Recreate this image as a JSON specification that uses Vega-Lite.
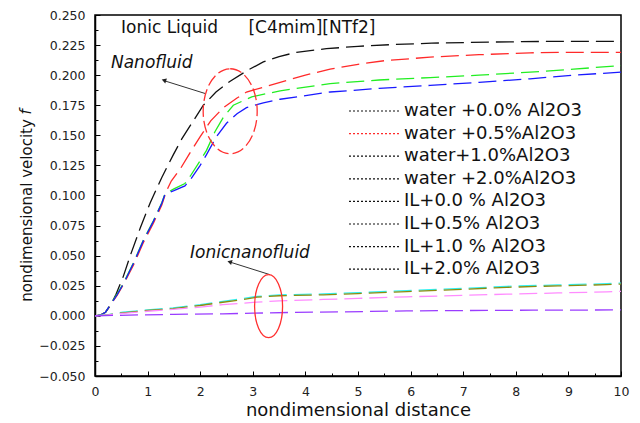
{
  "$schema": "https://vega.github.io/schema/vega-lite/v6.json",
  "width": 526,
  "height": 361,
  "autosize": "none",
  "padding": {"left": 95, "top": 15, "right": 19, "bottom": 47},
  "background": "white",
  "config": {
    "font": "DejaVu Sans",
    "view": {"stroke": "black", "strokeWidth": 1.5},
    "axis": {
      "grid": false,
      "domainColor": "black",
      "domainWidth": 1.5,
      "tickColor": "black",
      "tickWidth": 1,
      "labelFont": "DejaVu Sans",
      "labelFontSize": 12.5,
      "labelColor": "#222222",
      "titleFont": "DejaVu Sans",
      "titleFontWeight": "normal",
      "titleColor": "#111111"
    }
  },
  "datasets": {
    "curves": [
      {"series": "water +0.0% Al2O3", "distance": 0, "velocity": 0},
      {"series": "water +0.0% Al2O3", "distance": 0.1, "velocity": 0.0006},
      {"series": "water +0.0% Al2O3", "distance": 0.2, "velocity": 0.003},
      {"series": "water +0.0% Al2O3", "distance": 0.3, "velocity": 0.009},
      {"series": "water +0.0% Al2O3", "distance": 0.4, "velocity": 0.018},
      {"series": "water +0.0% Al2O3", "distance": 0.54, "velocity": 0.033},
      {"series": "water +0.0% Al2O3", "distance": 0.67, "velocity": 0.05},
      {"series": "water +0.0% Al2O3", "distance": 0.86, "velocity": 0.073},
      {"series": "water +0.0% Al2O3", "distance": 1.05, "velocity": 0.094},
      {"series": "water +0.0% Al2O3", "distance": 1.27, "velocity": 0.115},
      {"series": "water +0.0% Al2O3", "distance": 1.49, "velocity": 0.134},
      {"series": "water +0.0% Al2O3", "distance": 1.65, "velocity": 0.147},
      {"series": "water +0.0% Al2O3", "distance": 1.81, "velocity": 0.158},
      {"series": "water +0.0% Al2O3", "distance": 2.06, "velocity": 0.175},
      {"series": "water +0.0% Al2O3", "distance": 2.3, "velocity": 0.186},
      {"series": "water +0.0% Al2O3", "distance": 2.57, "velocity": 0.195},
      {"series": "water +0.0% Al2O3", "distance": 2.9, "velocity": 0.204},
      {"series": "water +0.0% Al2O3", "distance": 3.2, "velocity": 0.211},
      {"series": "water +0.0% Al2O3", "distance": 3.5, "velocity": 0.2155},
      {"series": "water +0.0% Al2O3", "distance": 3.83, "velocity": 0.219},
      {"series": "water +0.0% Al2O3", "distance": 4.4, "velocity": 0.222},
      {"series": "water +0.0% Al2O3", "distance": 5.0, "velocity": 0.224},
      {"series": "water +0.0% Al2O3", "distance": 5.7, "velocity": 0.2255},
      {"series": "water +0.0% Al2O3", "distance": 6.4, "velocity": 0.2266},
      {"series": "water +0.0% Al2O3", "distance": 7.5, "velocity": 0.2275},
      {"series": "water +0.0% Al2O3", "distance": 8.5, "velocity": 0.228},
      {"series": "water +0.0% Al2O3", "distance": 10, "velocity": 0.228},

      {"series": "water +0.5%Al2O3", "distance": 0, "velocity": 0},
      {"series": "water +0.5%Al2O3", "distance": 0.1, "velocity": 0.0005},
      {"series": "water +0.5%Al2O3", "distance": 0.2, "velocity": 0.003},
      {"series": "water +0.5%Al2O3", "distance": 0.3, "velocity": 0.0095},
      {"series": "water +0.5%Al2O3", "distance": 0.42, "velocity": 0.017},
      {"series": "water +0.5%Al2O3", "distance": 0.54, "velocity": 0.026},
      {"series": "water +0.5%Al2O3", "distance": 0.73, "velocity": 0.042},
      {"series": "water +0.5%Al2O3", "distance": 0.92, "velocity": 0.061},
      {"series": "water +0.5%Al2O3", "distance": 1.11, "velocity": 0.077},
      {"series": "water +0.5%Al2O3", "distance": 1.27, "velocity": 0.092},
      {"series": "water +0.5%Al2O3", "distance": 1.35, "velocity": 0.103},
      {"series": "water +0.5%Al2O3", "distance": 1.45, "velocity": 0.112},
      {"series": "water +0.5%Al2O3", "distance": 1.62, "velocity": 0.122},
      {"series": "water +0.5%Al2O3", "distance": 1.8, "velocity": 0.135},
      {"series": "water +0.5%Al2O3", "distance": 2.0, "velocity": 0.149},
      {"series": "water +0.5%Al2O3", "distance": 2.2, "velocity": 0.162},
      {"series": "water +0.5%Al2O3", "distance": 2.44, "velocity": 0.173},
      {"series": "water +0.5%Al2O3", "distance": 2.7, "velocity": 0.181},
      {"series": "water +0.5%Al2O3", "distance": 2.88, "velocity": 0.186},
      {"series": "water +0.5%Al2O3", "distance": 3.2, "velocity": 0.19},
      {"series": "water +0.5%Al2O3", "distance": 3.52, "velocity": 0.194},
      {"series": "water +0.5%Al2O3", "distance": 4.0, "velocity": 0.2},
      {"series": "water +0.5%Al2O3", "distance": 4.47, "velocity": 0.205},
      {"series": "water +0.5%Al2O3", "distance": 5.0, "velocity": 0.209},
      {"series": "water +0.5%Al2O3", "distance": 5.5, "velocity": 0.212},
      {"series": "water +0.5%Al2O3", "distance": 6.37, "velocity": 0.215},
      {"series": "water +0.5%Al2O3", "distance": 7.3, "velocity": 0.217},
      {"series": "water +0.5%Al2O3", "distance": 8.27, "velocity": 0.2186},
      {"series": "water +0.5%Al2O3", "distance": 9.1, "velocity": 0.219},
      {"series": "water +0.5%Al2O3", "distance": 10, "velocity": 0.219},

      {"series": "water+1.0%Al2O3", "distance": 0, "velocity": 0},
      {"series": "water+1.0%Al2O3", "distance": 0.1, "velocity": 0.0005},
      {"series": "water+1.0%Al2O3", "distance": 0.2, "velocity": 0.003},
      {"series": "water+1.0%Al2O3", "distance": 0.3, "velocity": 0.01},
      {"series": "water+1.0%Al2O3", "distance": 0.42, "velocity": 0.018},
      {"series": "water+1.0%Al2O3", "distance": 0.54, "velocity": 0.027},
      {"series": "water+1.0%Al2O3", "distance": 0.73, "velocity": 0.044},
      {"series": "water+1.0%Al2O3", "distance": 0.92, "velocity": 0.063},
      {"series": "water+1.0%Al2O3", "distance": 1.11, "velocity": 0.079},
      {"series": "water+1.0%Al2O3", "distance": 1.27, "velocity": 0.094},
      {"series": "water+1.0%Al2O3", "distance": 1.33, "velocity": 0.1015},
      {"series": "water+1.0%Al2O3", "distance": 1.5, "velocity": 0.1055},
      {"series": "water+1.0%Al2O3", "distance": 1.71, "velocity": 0.11},
      {"series": "water+1.0%Al2O3", "distance": 1.81, "velocity": 0.116},
      {"series": "water+1.0%Al2O3", "distance": 2.0, "velocity": 0.129},
      {"series": "water+1.0%Al2O3", "distance": 2.12, "velocity": 0.1375},
      {"series": "water+1.0%Al2O3", "distance": 2.28, "velocity": 0.153},
      {"series": "water+1.0%Al2O3", "distance": 2.44, "velocity": 0.165},
      {"series": "water+1.0%Al2O3", "distance": 2.63, "velocity": 0.175},
      {"series": "water+1.0%Al2O3", "distance": 2.98, "velocity": 0.182},
      {"series": "water+1.0%Al2O3", "distance": 3.52, "velocity": 0.187},
      {"series": "water+1.0%Al2O3", "distance": 4.47, "velocity": 0.193},
      {"series": "water+1.0%Al2O3", "distance": 5.4, "velocity": 0.196},
      {"series": "water+1.0%Al2O3", "distance": 6.37, "velocity": 0.198},
      {"series": "water+1.0%Al2O3", "distance": 7.3, "velocity": 0.2},
      {"series": "water+1.0%Al2O3", "distance": 8.27, "velocity": 0.2025},
      {"series": "water+1.0%Al2O3", "distance": 9.1, "velocity": 0.205},
      {"series": "water+1.0%Al2O3", "distance": 10, "velocity": 0.208},

      {"series": "water +2.0%Al2O3", "distance": 0, "velocity": 0},
      {"series": "water +2.0%Al2O3", "distance": 0.1, "velocity": 0.0005},
      {"series": "water +2.0%Al2O3", "distance": 0.2, "velocity": 0.003},
      {"series": "water +2.0%Al2O3", "distance": 0.3, "velocity": 0.0098},
      {"series": "water +2.0%Al2O3", "distance": 0.42, "velocity": 0.0175},
      {"series": "water +2.0%Al2O3", "distance": 0.54, "velocity": 0.0265},
      {"series": "water +2.0%Al2O3", "distance": 0.73, "velocity": 0.0435},
      {"series": "water +2.0%Al2O3", "distance": 0.92, "velocity": 0.0625},
      {"series": "water +2.0%Al2O3", "distance": 1.11, "velocity": 0.0785},
      {"series": "water +2.0%Al2O3", "distance": 1.27, "velocity": 0.0935},
      {"series": "water +2.0%Al2O3", "distance": 1.33, "velocity": 0.101},
      {"series": "water +2.0%Al2O3", "distance": 1.5, "velocity": 0.104},
      {"series": "water +2.0%Al2O3", "distance": 1.71, "velocity": 0.108},
      {"series": "water +2.0%Al2O3", "distance": 1.81, "velocity": 0.113},
      {"series": "water +2.0%Al2O3", "distance": 2.0, "velocity": 0.125},
      {"series": "water +2.0%Al2O3", "distance": 2.12, "velocity": 0.134},
      {"series": "water +2.0%Al2O3", "distance": 2.31, "velocity": 0.149},
      {"series": "water +2.0%Al2O3", "distance": 2.5, "velocity": 0.16},
      {"series": "water +2.0%Al2O3", "distance": 2.7, "velocity": 0.168},
      {"series": "water +2.0%Al2O3", "distance": 2.88, "velocity": 0.173},
      {"series": "water +2.0%Al2O3", "distance": 3.2, "velocity": 0.177},
      {"series": "water +2.0%Al2O3", "distance": 3.52, "velocity": 0.18},
      {"series": "water +2.0%Al2O3", "distance": 4.47, "velocity": 0.186},
      {"series": "water +2.0%Al2O3", "distance": 5.4, "velocity": 0.189},
      {"series": "water +2.0%Al2O3", "distance": 6.37, "velocity": 0.1915},
      {"series": "water +2.0%Al2O3", "distance": 7.3, "velocity": 0.194},
      {"series": "water +2.0%Al2O3", "distance": 8.27, "velocity": 0.197},
      {"series": "water +2.0%Al2O3", "distance": 9.1, "velocity": 0.2},
      {"series": "water +2.0%Al2O3", "distance": 10, "velocity": 0.2025},

      {"series": "IL+0.0 % Al2O3", "distance": 0, "velocity": 0},
      {"series": "IL+0.0 % Al2O3", "distance": 0.25, "velocity": 0.001},
      {"series": "IL+0.0 % Al2O3", "distance": 0.53, "velocity": 0.003},
      {"series": "IL+0.0 % Al2O3", "distance": 1.0, "velocity": 0.005},
      {"series": "IL+0.0 % Al2O3", "distance": 1.48, "velocity": 0.0066},
      {"series": "IL+0.0 % Al2O3", "distance": 2.0, "velocity": 0.0093},
      {"series": "IL+0.0 % Al2O3", "distance": 2.43, "velocity": 0.012},
      {"series": "IL+0.0 % Al2O3", "distance": 2.8, "velocity": 0.0142},
      {"series": "IL+0.0 % Al2O3", "distance": 3.08, "velocity": 0.0162},
      {"series": "IL+0.0 % Al2O3", "distance": 3.5, "velocity": 0.0174},
      {"series": "IL+0.0 % Al2O3", "distance": 4.34, "velocity": 0.0182},
      {"series": "IL+0.0 % Al2O3", "distance": 5.0, "velocity": 0.0192},
      {"series": "IL+0.0 % Al2O3", "distance": 5.93, "velocity": 0.021},
      {"series": "IL+0.0 % Al2O3", "distance": 7.0, "velocity": 0.0228},
      {"series": "IL+0.0 % Al2O3", "distance": 7.83, "velocity": 0.0245},
      {"series": "IL+0.0 % Al2O3", "distance": 8.8, "velocity": 0.0257},
      {"series": "IL+0.0 % Al2O3", "distance": 9.73, "velocity": 0.0267},
      {"series": "IL+0.0 % Al2O3", "distance": 10, "velocity": 0.0272},

      {"series": "IL+0.5% Al2O3", "distance": 0, "velocity": 0},
      {"series": "IL+0.5% Al2O3", "distance": 0.25, "velocity": 0.0008},
      {"series": "IL+0.5% Al2O3", "distance": 0.53, "velocity": 0.0025},
      {"series": "IL+0.5% Al2O3", "distance": 1.0, "velocity": 0.0045},
      {"series": "IL+0.5% Al2O3", "distance": 1.48, "velocity": 0.006},
      {"series": "IL+0.5% Al2O3", "distance": 2.0, "velocity": 0.0086},
      {"series": "IL+0.5% Al2O3", "distance": 2.43, "velocity": 0.0113},
      {"series": "IL+0.5% Al2O3", "distance": 2.8, "velocity": 0.0135},
      {"series": "IL+0.5% Al2O3", "distance": 3.08, "velocity": 0.0155},
      {"series": "IL+0.5% Al2O3", "distance": 3.5, "velocity": 0.0167},
      {"series": "IL+0.5% Al2O3", "distance": 4.34, "velocity": 0.0175},
      {"series": "IL+0.5% Al2O3", "distance": 5.0, "velocity": 0.0185},
      {"series": "IL+0.5% Al2O3", "distance": 5.93, "velocity": 0.0202},
      {"series": "IL+0.5% Al2O3", "distance": 7.0, "velocity": 0.022},
      {"series": "IL+0.5% Al2O3", "distance": 7.83, "velocity": 0.0237},
      {"series": "IL+0.5% Al2O3", "distance": 8.8, "velocity": 0.0249},
      {"series": "IL+0.5% Al2O3", "distance": 9.73, "velocity": 0.0259},
      {"series": "IL+0.5% Al2O3", "distance": 10, "velocity": 0.0264},

      {"series": "\u00a0IL+1.0 % Al2O3", "distance": 0, "velocity": 0},
      {"series": "\u00a0IL+1.0 % Al2O3", "distance": 0.25, "velocity": 0.0007},
      {"series": "\u00a0IL+1.0 % Al2O3", "distance": 0.53, "velocity": 0.002},
      {"series": "\u00a0IL+1.0 % Al2O3", "distance": 1.0, "velocity": 0.0038},
      {"series": "\u00a0IL+1.0 % Al2O3", "distance": 1.48, "velocity": 0.0053},
      {"series": "\u00a0IL+1.0 % Al2O3", "distance": 2.0, "velocity": 0.0073},
      {"series": "\u00a0IL+1.0 % Al2O3", "distance": 2.43, "velocity": 0.0093},
      {"series": "\u00a0IL+1.0 % Al2O3", "distance": 3.08, "velocity": 0.0114},
      {"series": "\u00a0IL+1.0 % Al2O3", "distance": 3.5, "velocity": 0.0125},
      {"series": "\u00a0IL+1.0 % Al2O3", "distance": 4.34, "velocity": 0.0136},
      {"series": "\u00a0IL+1.0 % Al2O3", "distance": 5.0, "velocity": 0.0145},
      {"series": "\u00a0IL+1.0 % Al2O3", "distance": 5.93, "velocity": 0.0158},
      {"series": "\u00a0IL+1.0 % Al2O3", "distance": 7.0, "velocity": 0.017},
      {"series": "\u00a0IL+1.0 % Al2O3", "distance": 7.83, "velocity": 0.018},
      {"series": "\u00a0IL+1.0 % Al2O3", "distance": 8.8, "velocity": 0.019},
      {"series": "\u00a0IL+1.0 % Al2O3", "distance": 9.73, "velocity": 0.0199},
      {"series": "\u00a0IL+1.0 % Al2O3", "distance": 10, "velocity": 0.0203},

      {"series": "IL+2.0% Al2O3", "distance": 0, "velocity": 0},
      {"series": "IL+2.0% Al2O3", "distance": 0.86, "velocity": 0.0008},
      {"series": "IL+2.0% Al2O3", "distance": 1.5, "velocity": 0.0012},
      {"series": "IL+2.0% Al2O3", "distance": 2.43, "velocity": 0.0017},
      {"series": "IL+2.0% Al2O3", "distance": 3.0, "velocity": 0.0022},
      {"series": "IL+2.0% Al2O3", "distance": 3.7, "velocity": 0.0028},
      {"series": "IL+2.0% Al2O3", "distance": 4.66, "velocity": 0.0033},
      {"series": "IL+2.0% Al2O3", "distance": 5.93, "velocity": 0.0041},
      {"series": "IL+2.0% Al2O3", "distance": 7.0, "velocity": 0.0044},
      {"series": "IL+2.0% Al2O3", "distance": 8.33, "velocity": 0.0047},
      {"series": "IL+2.0% Al2O3", "distance": 10, "velocity": 0.0049}
    ]
  },
  "layer": [
    {
      "data": {"name": "curves"},
      "mark": {"type": "line", "strokeWidth": 1.3, "strokeDash": [18, 7]},
      "encoding": {
        "x": {
          "field": "distance",
          "type": "quantitative",
          "scale": {"domain": [0, 10], "nice": false},
          "axis": {
            "orient": "bottom",
            "title": "nondimensional distance",
            "titleFontSize": 18,
            "titleBaseline": "middle",
            "titleY": 34,
            "values": [0, 1, 2, 3, 4, 5, 6, 7, 8, 9, 10],
            "format": "d",
            "tickSize": -5,
            "labelPadding": 14.5,
            "labelFlush": false
          }
        },
        "y": {
          "field": "velocity",
          "type": "quantitative",
          "scale": {"domain": [-0.05, 0.25], "nice": false, "zero": false},
          "axis": {
            "orient": "left",
            "title": "nondimensional velocity",
            "titleFontSize": 15,
            "titleAngle": 270,
            "titleAlign": "center",
            "titleBaseline": "alphabetic",
            "titleX": -64,
            "titleY": 195,
            "values": [-0.05, -0.025, 0, 0.025, 0.05, 0.075, 0.1, 0.125, 0.15, 0.175, 0.2, 0.225, 0.25],
            "format": ".3f",
            "tickSize": -5,
            "labelPadding": 15,
            "labelFlush": false
          }
        },
        "color": {
          "field": "series",
          "type": "nominal",
          "sort": null,
          "scale": {
            "range": ["#111111", "#ff2a2a", "#22ee22", "#1a1aff", "#33f0f0", "#8c8c10", "#ff8cff", "#9a3cff"]
          },
          "legend": null
        }
      }
    },
    {
      "data": {"name": "curves"},
      "transform": [{"filter": "false"}],
      "mark": {"type": "line"},
      "encoding": {
        "x": {"field": "distance", "type": "quantitative", "axis": null},
        "y": {"field": "velocity", "type": "quantitative", "axis": null},
        "stroke": {
          "field": "series",
          "type": "nominal",
          "scale": {
            "domain": ["water +0.0% Al2O3", "water +0.5%Al2O3", "water+1.0%Al2O3", "water +2.0%Al2O3", "IL+0.0 % Al2O3", "IL+0.5% Al2O3", "\u00a0IL+1.0 % Al2O3", "IL+2.0% Al2O3"],
            "range": ["#111111", "#ff2a2a", "#111111", "#111111", "#111111", "#111111", "#111111", "#111111"]
          },
          "legend": {
            "orient": "none",
            "legendX": 253,
            "legendY": 85,
            "title": null,
            "padding": 0,
            "symbolType": "stroke",
            "symbolSize": 2704,
            "symbolStrokeWidth": 1.2,
            "symbolDash": [2, 2],
            "clipHeight": 22,
            "labelFont": "DejaVu Sans",
            "labelFontSize": 18,
            "labelColor": "#111111",
            "labelOffset": 2,
            "labelLimit": 400,
            "rowPadding": 0.6
          }
        }
      }
    },
    {
      "data": {"name": "curves"},
      "mark": {"type": "point", "opacity": 0},
      "encoding": {
        "x": {
          "field": "distance",
          "type": "quantitative",
          "axis": {
            "orient": "bottom",
            "title": null,
            "values": [0.5, 1.5, 2.5, 3.5, 4.5, 5.5, 6.5, 7.5, 8.5, 9.5],
            "labels": false,
            "domain": false,
            "tickSize": -3
          }
        },
        "y": {
          "field": "velocity",
          "type": "quantitative",
          "axis": {
            "orient": "left",
            "title": null,
            "values": [-0.0375, -0.0125, 0.0125, 0.0375, 0.0625, 0.0875, 0.1125, 0.1375, 0.1625, 0.1875, 0.2125, 0.2375],
            "labels": false,
            "domain": false,
            "tickSize": -3
          }
        }
      }
    },
    {
      "data": {"values": [{}]},
      "mark": {"type": "text", "text": "f", "fontStyle": "italic", "fontSize": 15, "angle": 270, "align": "center", "baseline": "alphabetic", "color": "#111111"},
      "encoding": {
        "x": {"datum": -1.2167, "type": "quantitative", "axis": null},
        "y": {"datum": 0.1695, "type": "quantitative", "axis": null}
      }
    },
    {
      "data": {"values": [{}]},
      "mark": {"type": "text", "text": "Ionic Liquid", "fontSize": 17, "align": "left", "baseline": "middle", "color": "#111111"},
      "encoding": {
        "x": {"datum": 0.494, "type": "quantitative", "axis": null},
        "y": {"datum": 0.2388, "type": "quantitative", "axis": null}
      }
    },
    {
      "data": {"values": [{}]},
      "mark": {"type": "text", "text": "[C4mim][NTf2]", "fontSize": 17, "align": "left", "baseline": "middle", "color": "#111111"},
      "encoding": {
        "x": {"datum": 2.918, "type": "quantitative", "axis": null},
        "y": {"datum": 0.2388, "type": "quantitative", "axis": null}
      }
    },
    {
      "data": {"values": [{}]},
      "mark": {"type": "text", "text": "Nanofluid", "fontSize": 17, "fontStyle": "italic", "align": "left", "baseline": "middle", "color": "#111111"},
      "encoding": {
        "x": {"datum": 0.304, "type": "quantitative", "axis": null},
        "y": {"datum": 0.2105, "type": "quantitative", "axis": null}
      }
    },
    {
      "data": {"values": [{}]},
      "mark": {"type": "text", "text": "Ionicnanofluid", "fontSize": 17, "fontStyle": "italic", "align": "left", "baseline": "middle", "color": "#111111"},
      "encoding": {
        "x": {"datum": 1.806, "type": "quantitative", "axis": null},
        "y": {"datum": 0.0525, "type": "quantitative", "axis": null}
      }
    },
    {
      "data": {"values": [{}]},
      "mark": {"type": "rule", "color": "#333333", "strokeWidth": 1},
      "encoding": {
        "x": {"datum": 2.091, "type": "quantitative", "axis": null},
        "y": {"datum": 0.1848, "type": "quantitative", "axis": null},
        "x2": {"datum": 1.33},
        "y2": {"datum": 0.1952}
      }
    },
    {
      "data": {"values": [{}]},
      "mark": {"type": "point", "shape": "triangle-up", "filled": true, "size": 28, "angle": 288, "color": "#222222", "opacity": 1},
      "encoding": {
        "x": {"datum": 1.31, "type": "quantitative", "axis": null},
        "y": {"datum": 0.1958, "type": "quantitative", "axis": null}
      }
    },
    {
      "data": {"values": [{}]},
      "mark": {"type": "rule", "color": "#333333", "strokeWidth": 1},
      "encoding": {
        "x": {"datum": 3.327, "type": "quantitative", "axis": null},
        "y": {"datum": 0.0342, "type": "quantitative", "axis": null},
        "x2": {"datum": 2.58},
        "y2": {"datum": 0.0445}
      }
    },
    {
      "data": {"values": [{}]},
      "mark": {"type": "point", "shape": "triangle-up", "filled": true, "size": 28, "angle": 287, "color": "#222222", "opacity": 1},
      "encoding": {
        "x": {"datum": 2.56, "type": "quantitative", "axis": null},
        "y": {"datum": 0.0449, "type": "quantitative", "axis": null}
      }
    },
    {
      "data": {"values": [{}]},
      "mark": {
        "type": "point",
        "shape": "M0,-1.574C0.5523,-1.574,1,-0.8693,1,0C1,0.8693,0.5523,1.574,0,1.574C-0.5523,1.574,-1,0.8693,-1,0C-1,-0.8693,-0.5523,-1.574,0,-1.574Z",
        "filled": false,
        "size": 2916,
        "color": "#ff3030",
        "strokeWidth": 1.3,
        "strokeDash": [12, 4],
        "opacity": 1
      },
      "encoding": {
        "x": {"datum": 2.57, "type": "quantitative", "axis": null},
        "y": {"datum": 0.170, "type": "quantitative", "axis": null}
      }
    },
    {
      "data": {"values": [{}]},
      "mark": {
        "type": "point",
        "shape": "M0,-2.25C0.5523,-2.25,1,-1.2427,1,0C1,1.2427,0.5523,2.25,0,2.25C-0.5523,2.25,-1,1.2427,-1,0C-1,-1.2427,-0.5523,-2.25,0,-2.25Z",
        "filled": false,
        "size": 784,
        "color": "#ff3030",
        "strokeWidth": 1.3,
        "opacity": 1
      },
      "encoding": {
        "x": {"datum": 3.30, "type": "quantitative", "axis": null},
        "y": {"datum": 0.008, "type": "quantitative", "axis": null}
      }
    }
  ],
  "resolve": {"axis": {"x": "independent", "y": "independent"}}
}
